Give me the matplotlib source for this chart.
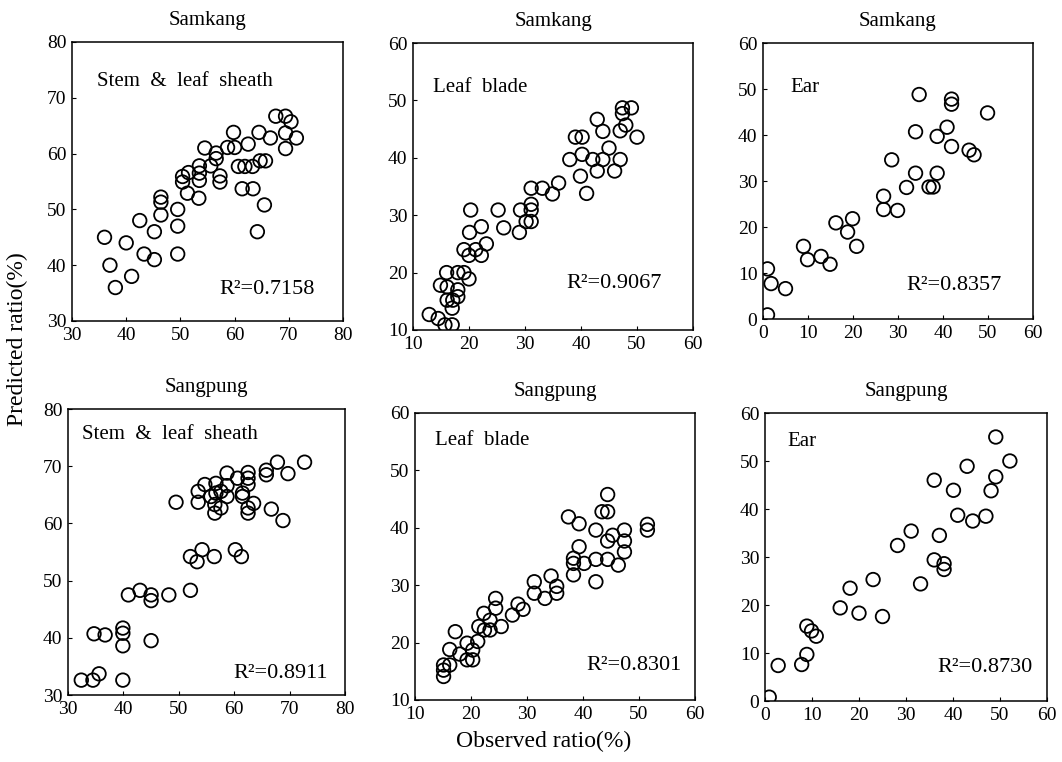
import matplotlib
matplotlib.use("Agg")
import matplotlib.pyplot as plt

# ---------------- data ----------------
samkang_stem_obs = [36, 37, 38, 40, 41, 42.5, 43.3, 45.2, 45.2, 46.4, 46.4, 46.4, 49.5, 49.5, 49.5,
                    50.4, 50.4, 51.5, 51.3, 53.5, 53.5, 53.5, 53.4, 54.5, 55.6, 56.6, 56.6, 57.3, 57.3,
                    58.7, 60.0, 59.8, 60.7, 61.9, 62.5, 61.4, 63.4, 63.3, 64.5, 64.7, 65.7, 64.2, 65.5,
                    66.6, 67.6, 69.4, 70.4, 69.4, 69.4, 71.4]
samkang_stem_pred = [45, 40, 36, 44, 38, 48, 42, 46, 41, 52.2, 51.3, 49, 50, 47, 42,
                     55.9, 54.9, 56.6, 52.9, 57.8, 56.5, 55.2, 52, 61, 57.8, 60.1, 59.1, 56, 54.9,
                     61.1, 61.1, 63.8, 57.7, 57.7, 61.7, 53.7, 53.7, 57.7, 63.8, 58.7, 58.7, 46, 50.8,
                     62.8, 66.7, 66.7, 65.7, 63.7, 60.9, 62.8]

samkang_leaf_obs = [12.9, 14.9, 16.0, 16.1, 16.1, 15.7, 17.0, 14.5, 17.0, 17.1, 18.0, 18.0, 18.0, 19.1,
                    20.0, 19.1, 20.0, 21.2, 22.2, 23.1, 20.1, 22.2, 20.3, 25.2, 26.2, 29.0, 29.2, 30.2,
                    31.1, 31.1, 31.1, 31.1, 33.1, 34.9, 36.0, 38.0, 39.0, 40.2, 40.2, 39.9, 41.0, 42.1,
                    42.9, 43.9, 42.9, 43.9, 45.0, 46.0, 47.0, 47.0, 47.4, 47.4, 48.0, 49.0, 50.0]
samkang_leaf_pred = [12.7, 17.8, 20.0, 17.5, 15.2, 10.9, 10.9, 12.0, 13.8, 15.2, 17.0, 15.8, 20.0, 20.0,
                     18.9, 24.0, 23.0, 24.0, 23.0, 25.0, 27.0, 28.0, 30.9, 30.9, 27.8, 27.0, 30.9, 28.9,
                     28.9, 31.9, 30.9, 34.7, 34.7, 33.7, 35.6, 39.7, 43.6, 43.6, 40.6, 36.8, 33.8, 39.7,
                     46.7, 44.6, 37.7, 39.7, 41.7, 37.7, 39.7, 44.7, 48.7, 47.7, 45.7, 48.7, 43.6]

samkang_ear_obs = [1.0, 1.0, 1.8, 5.0, 9.0, 9.9, 12.9, 14.9, 16.2, 18.8, 19.9, 20.8, 26.8, 26.8, 28.6,
                   29.9, 31.9, 33.9, 33.9, 34.7, 36.9, 37.8, 38.7, 38.7, 40.9, 41.9, 41.9, 41.9, 45.8,
                   46.9, 49.9]
samkang_ear_pred = [0.9, 10.9, 7.7, 6.6, 15.8, 12.9, 13.6, 11.9, 20.9, 18.9, 21.8, 15.8, 26.7, 23.8, 34.6,
                    23.6, 28.6, 40.7, 31.7, 48.8, 28.7, 28.7, 39.7, 31.7, 41.7, 47.8, 46.7, 37.5, 36.7,
                    35.7, 44.8]

sangpung_stem_obs = [32.4, 34.5, 35.6, 34.7, 36.7, 39.9, 39.9, 39.9, 39.9, 40.9, 43.0, 45.0, 45.0, 45.0,
                     48.2, 52.1, 49.5, 52.1, 53.3, 54.2, 56.4, 60.2, 61.3, 53.5, 53.5, 54.7, 55.8, 56.7,
                     56.7, 56.5, 56.5, 57.6, 57.6, 58.7, 58.7, 58.7, 60.6, 61.5, 61.5, 62.5, 62.5, 62.5,
                     62.5, 62.5, 63.5, 65.8, 65.8, 67.8, 69.7, 66.7, 68.8, 72.7]
sangpung_stem_pred = [32.6, 32.6, 33.7, 40.7, 40.5, 41.7, 40.8, 38.6, 32.6, 47.5, 48.3, 47.5, 46.5, 39.5,
                      47.5, 48.3, 63.7, 54.2, 53.3, 55.4, 54.2, 55.4, 54.2, 65.6, 63.7, 66.8, 64.7, 67.0,
                      65.3, 63.3, 61.8, 62.7, 65.6, 66.6, 64.7, 68.8, 67.9, 65.3, 64.7, 68.9, 67.9, 66.8,
                      62.7, 61.8, 63.5, 69.3, 68.5, 70.7, 68.7, 62.5, 60.5, 70.7]

sangpung_leaf_obs = [15.1, 15.1, 15.1, 16.2, 16.2, 17.2, 18.0, 19.3, 19.3, 20.3, 20.3, 21.2, 21.4, 22.3,
                     22.4, 23.4, 23.4, 24.4, 24.4, 25.4, 27.4, 28.4, 29.3, 31.3, 31.3, 33.2, 34.3, 35.3,
                     35.3, 37.4, 39.3, 39.3, 38.3, 38.3, 38.3, 40.2, 42.3, 42.3, 42.3, 43.4, 44.4, 44.4,
                     44.4, 45.3, 44.4, 46.3, 47.4, 47.4, 47.4, 51.5, 51.5]
sangpung_leaf_pred = [16.1, 15.2, 14.1, 16.1, 18.8, 21.9, 18.0, 19.9, 17.0, 18.7, 17.0, 20.2, 22.8, 25.1,
                      22.2, 23.9, 22.2, 27.7, 26.0, 22.8, 24.8, 26.7, 25.8, 30.6, 28.6, 27.7, 31.6, 29.8,
                      28.6, 41.9, 40.7, 36.7, 34.7, 33.8, 31.8, 33.8, 39.6, 34.5, 30.6, 42.8, 42.8, 45.8,
                      37.7, 38.7, 34.5, 33.5, 39.6, 37.7, 35.8, 40.6, 39.6]

sangpung_ear_obs = [0.9, 2.8, 7.8, 8.9, 8.9, 9.9, 10.9, 16.0, 18.1, 20.0, 23.0, 25.0, 28.2, 31.1, 33.1,
                    36.0, 36.0, 37.1, 38.1, 38.1, 40.1, 41.0, 43.0, 44.2, 47.0, 48.1, 49.1, 49.1, 52.1]
sangpung_ear_pred = [0.8, 7.4, 7.6, 9.7, 15.6, 14.6, 13.5, 19.4, 23.5, 18.3, 25.3, 17.6, 32.4, 35.4, 24.4,
                     46.0, 29.4, 34.5, 28.6, 27.4, 43.9, 38.7, 48.9, 37.5, 38.5, 43.8, 55.0, 46.7, 50.0]

cultivars = ["Samkang", "Samkang", "Samkang", "Sangpung", "Sangpung", "Sangpung"]
organs = ["Stem  &  leaf  sheath", "Leaf  blade", "Ear",
          "Stem  &  leaf  sheath", "Leaf  blade", "Ear"]
r2_labels = ["0.7158", "0.9067", "0.8357", "0.8911", "0.8301", "0.8730"]
axis_ranges = [(30, 80), (10, 60), (0, 60), (30, 80), (10, 60), (0, 60)]
x_label = "Observed ratio(%)"
y_label = "Predicted ratio(%)"

series = [(samkang_stem_obs, samkang_stem_pred), (samkang_leaf_obs, samkang_leaf_pred),
          (samkang_ear_obs, samkang_ear_pred), (sangpung_stem_obs, sangpung_stem_pred),
          (sangpung_leaf_obs, sangpung_leaf_pred), (sangpung_ear_obs, sangpung_ear_pred)]

# ---------------- layout (pixel boxes: left, right, top, bottom) ----------------
W, H = 1062, 762
boxes = [(72, 343, 42, 321), (413, 693, 43, 330), (763, 1033, 43, 319),
         (68, 345, 409, 695), (415, 695, 413, 700), (765, 1047, 413, 701)]
organ_pos = [(0.092, 0.892), (0.071, 0.878), (0.10, 0.873),
             (0.05, 0.944), (0.071, 0.937), (0.078, 0.934)]
r2_pos = [(0.897, 0.097), (0.889, 0.146), (0.885, 0.105),
          (0.939, 0.06), (0.954, 0.105), (0.95, 0.10)]

plt.rcParams['font.family'] = ['Liberation Serif', 'DejaVu Serif']

fig = plt.figure(figsize=(W / 100, H / 100), dpi=100)
fig.patch.set_facecolor('white')

for i, ((obs, pred), (l, r, t, b)) in enumerate(zip(series, boxes)):
    ax = fig.add_axes([l / W, 1 - b / H, (r - l) / W, (b - t) / H])
    lo, hi = axis_ranges[i]
    ax.scatter(obs, pred, s=95, facecolors='none', edgecolors='black', linewidths=1.3, zorder=3)
    ax.set_xlim(lo, hi)
    ax.set_ylim(lo, hi)
    ticks = list(range(lo, hi + 1, 10))
    ax.set_xticks(ticks)
    ax.set_yticks(ticks)
    ax.tick_params(direction='in', length=3, width=0.8, labelsize=14, pad=4, colors='black')
    for sp in ax.spines.values():
        sp.set_linewidth(1.1)
        sp.set_color('black')
    h = b - t
    ax.text(0.5, 1 + 17 / h, cultivars[i], transform=ax.transAxes, ha='center',
            va='baseline', fontsize=15)
    ax.text(organ_pos[i][0], organ_pos[i][1], organs[i], transform=ax.transAxes,
            ha='left', va='top', fontsize=15)
    ax.text(r2_pos[i][0], r2_pos[i][1], "R\u00b2=" + r2_labels[i], transform=ax.transAxes,
            ha='right', va='baseline', fontsize=16)

fig.text(17 / W, 1 - 339 / H, y_label, rotation=90, ha='center', va='center', fontsize=17)
fig.text(544 / W, 1 - 741 / H, x_label, ha='center', va='center', fontsize=17)

fig.savefig('out.png', dpi=100, facecolor='white')
